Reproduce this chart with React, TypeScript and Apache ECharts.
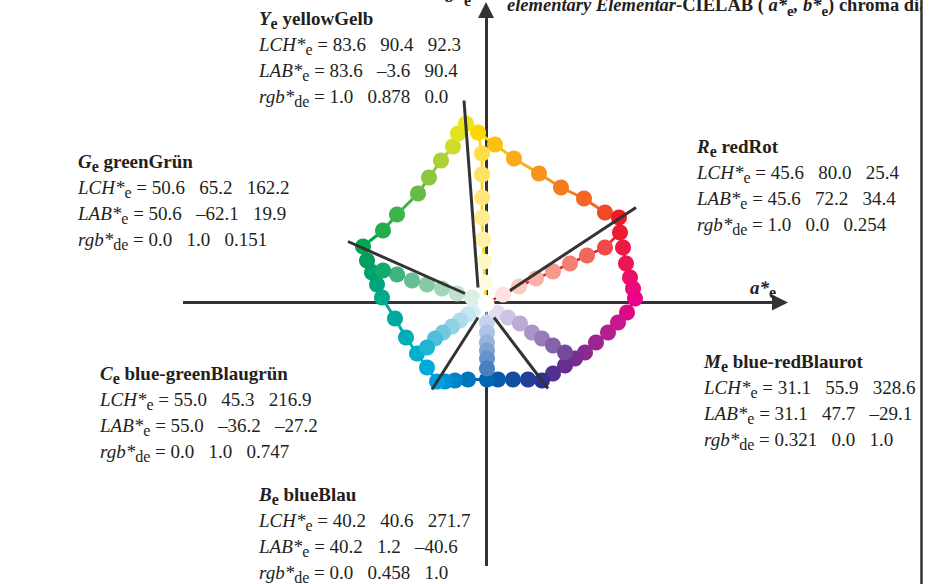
import React, { useEffect, useRef } from "react";
import * as echarts from "echarts";

const W = 935;
const H = 584;

// axis ranges in a*, b* units (2 px per unit)
const X_MIN = -243;
const X_MAX = 224.5;
const Y_MIN = -140.75;
const Y_MAX = 151.25;

// outer hexagon loop of colour samples (a*, b*), clockwise from top corner
const loopPoints: number[][] = [
  [-10, 89.5], [-4, 85], [4.5, 79], [14, 72], [26.5, 64.5], [37.5, 57.5], [49, 52], [59.5, 45], [66.5, 42.5],
  [67, 35], [68.5, 27.5], [70, 19.5], [72, 12.5], [73.5, 7], [74.5, 2],
  [70.5, -5], [66, -10], [61, -15], [55, -20], [49.5, -25], [44.5, -28], [39.5, -31.5], [33.5, -35.5], [28, -39],
  [21, -38.5], [13.5, -38.5], [6, -38.5], [0.5, -38.5], [-9, -38.5], [-15.5, -39], [-20.5, -39.5], [-24.5, -39.5],
  [-29.5, -32.5], [-34.5, -25.5], [-40, -17.5], [-45.5, -8], [-52, 2.5],
  [-54.5, 9], [-57, 15], [-59.5, 21], [-61.5, 28],
  [-51.5, 36], [-44.5, 44], [-34, 54.5], [-28.5, 62.5], [-22.5, 71], [-16.5, 78], [-14, 84.5],
];
const loopColors: string[] = [
  "#ece51a", "#ffd800", "#fdbf12", "#fbaa19", "#f7941d", "#f47b20", "#f26522", "#ef4a27", "#ed1c24",
  "#ed1b2f", "#ec1943", "#ec1656", "#ec1069", "#ec097b", "#ec008c",
  "#dd0a88", "#cb168b", "#b51f8d", "#9e258f", "#8a2a90", "#7a2c90", "#672e91", "#532f91", "#2e3192",
  "#213f99", "#134ca1", "#075aaa", "#0066b3", "#0074bd", "#0083c8", "#0092d4", "#00a0e0",
  "#00acd8", "#00afca", "#00acb6", "#00a99d", "#00a98e",
  "#00a57e", "#00a26d", "#009f5e", "#00a651",
  "#24ad4b", "#3db54a", "#66bb46", "#8dc63f", "#acd036", "#d0dc2b", "#e3e21f",
];

// centre (achromatic) point
const centerPoint: number[] = [0, -0.5];

// radial chains from centre to each elementary hue (last point lies on the loop)
const yChain: number[][] = [[-0.5, 10], [-1, 20.5], [-1.5, 31.5], [-2, 42.5], [-2, 52.5], [-2, 64], [-2, 74.5], [-4, 85]];
const yColors: string[] = ["#fffbe3", "#fff6c6", "#fff1aa", "#ffec91", "#ffe77a", "#ffe264", "#ffdd45"];
const rChain: number[][] = [[8.5, 4], [16.5, 8], [25, 12], [33.5, 15.5], [42, 19.5], [50.5, 23.5], [59.5, 27.5], [67, 35]];
const rColors: string[] = ["#fde2dd", "#fbcac1", "#f9b2a6", "#f69a8c", "#f38272", "#f0685c", "#ee4a48"];
const gChain: number[][] = [[-7, 2.5], [-14.5, 4.5], [-22, 7], [-29.5, 9], [-37, 11], [-44.5, 14], [-51.5, 16], [-59.5, 21]];
const gColors: string[] = ["#dcefe3", "#bfe2cd", "#a4d7ba", "#86cba5", "#66bf92", "#3fb37e", "#12a96d"];
const cChain: number[][] = [[-6.5, -4], [-9, -6], [-13, -9], [-17, -12], [-21.5, -15], [-25.5, -18], [-29.5, -22.5], [-34.5, -25.5]];
const cColors: string[] = ["#dbeff6", "#c4e7f1", "#abddeb", "#90d3e5", "#72c8df", "#4fbfd9", "#1fb5d3"];
const bChain: number[][] = [[0.5, -10], [0.5, -15], [0.5, -20], [0.5, -24], [0.5, -28], [0.5, -33], [0.5, -38.5]];
const bColors: string[] = ["#c6d3ec", "#afc3e4", "#98b3dc", "#80a2d3", "#6791ca", "#4a7fc0"];
const mChain: number[][] = [[5.5, -5], [11, -7.5], [17, -10.5], [23, -15], [28, -18], [33.5, -21.5], [39.5, -25], [44.5, -28]];
const mColors: string[] = ["#e4dcef", "#d0c4e3", "#bcabd4", "#a993c7", "#977bb9", "#8463ab", "#724b9e"];
const chainLineColors: string[] = ["#ffd400", "#ed1c24", "#7fc8a2", "#5fc2dc", "#7fa0d3", "#a58fc4"];

// black hue lines (outer end, inner end)
const hueLines: number[][][] = [
  [[-11, 101], [-4, 7.5]],
  [[75, 47.5], [12, 6]],
  [[-69, 30.5], [-10.5, 4.5]],
  [[-27, -43.5], [-4, -7.5]],
  [[31, -43], [4, -7.5]],
];

// coordinate axes (start, arrow end)
const axisLines: number[][][] = [
  [[-151.5, 0], [147, 0]],
  [[0, -131.75], [0, 146.25]],
];

const FONT = '"Liberation Serif", "Times New Roman", serif';
const INK = "#231f20";
const base = { fontFamily: FONT, fontSize: 19, lineHeight: 26, fill: INK, color: INK };
const sub = { ...base, fontSize: 16, lineHeight: 15, verticalAlign: "bottom" };
const rich: any = {
  n: { ...base },
  i: { ...base, fontStyle: "italic" },
  b: { ...base, fontWeight: "bold" },
  bi: { ...base, fontWeight: "bold", fontStyle: "italic" },
  s: { ...sub },
  bs: { ...sub, fontWeight: "bold" },
};
const tbase = { ...base, fontSize: 18.5 };
const tsub = { ...tbase, fontSize: 15, lineHeight: 14, verticalAlign: "bottom" };
const titleRich: any = {
  b: { ...tbase, fontWeight: "bold" },
  bi: { ...tbase, fontWeight: "bold", fontStyle: "italic" },
  bs: { ...tsub, fontWeight: "bold" },
};

const SP = "\u00a0\u00a0\u00a0";
function block(letter: string, name: string, lch: string[], lab: string[], rgb: string[]) {
  return [
    `{bi|${letter}}{bs|e}{b| ${name}}`,
    `{i|LCH*}{s|e}{n| = ${lch.join(SP)}}`,
    `{i|LAB*}{s|e}{n| = ${lab.join(SP)}}`,
    `{i|rgb*}{s|de}{n| = ${rgb.join(SP)}}`,
  ].join("\n");
}

const blocks = [
  { x: 259, y: 5, text: block("Y", "yellowGelb", ["83.6", "90.4", "92.3"], ["83.6", "–3.6", "90.4"], ["1.0", "0.878", "0.0"]) },
  { x: 78, y: 148, text: block("G", "greenGrün", ["50.6", "65.2", "162.2"], ["50.6", "–62.1", "19.9"], ["0.0", "1.0", "0.151"]) },
  { x: 697, y: 133, text: block("R", "redRot", ["45.6", "80.0", "25.4"], ["45.6", "72.2", "34.4"], ["1.0", "0.0", "0.254"]) },
  { x: 704, y: 348, text: block("M", "blue-redBlaurot", ["31.1", "55.9", "328.6"], ["31.1", "47.7", "–29.1"], ["0.321", "0.0", "1.0"]) },
  { x: 100, y: 360, text: block("C", "blue-greenBlaugrün", ["55.0", "45.3", "216.9"], ["55.0", "–36.2", "–27.2"], ["0.0", "1.0", "0.747"]) },
  { x: 259, y: 481, text: block("B", "blueBlau", ["40.2", "40.6", "271.7"], ["40.2", "1.2", "–40.6"], ["0.0", "0.458", "1.0"]) },
];

function buildOption() {
  const loopSegs = loopPoints.map((p, i) => ({
    coords: [p, loopPoints[(i + 1) % loopPoints.length]],
    lineStyle: { color: loopColors[i] },
  }));
  const chains = [yChain, rChain, gChain, cChain, bChain, mChain];
  const chainCols = [yColors, rColors, gColors, cColors, bColors, mColors];
  const chainLines = chains.map((c, i) => ({
    coords: [centerPoint, ...c],
    lineStyle: { color: chainLineColors[i] },
  }));
  const dots: any[] = [];
  loopPoints.forEach((p, i) => dots.push({ value: p, itemStyle: { color: loopColors[i], opacity: 1 } }));
  chains.forEach((c, ci) => {
    chainCols[ci].forEach((col, j) => dots.push({ value: c[j], itemStyle: { color: col, opacity: 1 } }));
  });

  const texts: any[] = blocks.map((b) => ({
    type: "text",
    x: b.x,
    y: b.y,
    z: 10,
    style: { text: b.text, rich, align: "left", verticalAlign: "top", ...base },
  }));
  texts.push({
    type: "text",
    x: 750,
    y: 274,
    z: 10,
    style: { text: "{bi|a*}{bs|e}", rich, align: "left", verticalAlign: "top", ...base },
  });
  texts.push({
    type: "text",
    x: 445,
    y: -18,
    z: 10,
    style: { text: "{bi|b*}{bs|e}", rich, align: "left", verticalAlign: "top", ...base },
  });
  texts.push({
    type: "text",
    x: 507,
    y: -8,
    z: 10,
    style: {
      text: "{bi|elementary Elementar}{b|-CIELAB ( }{bi|a*}{bs|e}{bi|, b*}{bs|e}{b|) chroma diagram}",
      rich: titleRich,
      align: "left",
      verticalAlign: "top",
      ...tbase,
    },
  });
  texts.push({ type: "rect", shape: { x: 921, y: 0, width: 14, height: H }, style: { fill: "#ffffff" }, z: 20 });
  texts.push({
    type: "line",
    shape: { x1: 921.5, y1: 0, x2: 921.5, y2: H },
    style: { stroke: "#333333", lineWidth: 2.5 },
    z: 21,
  });

  return {
    animation: false,
    grid: { left: 0, right: 0, top: 0, bottom: 0 },
    xAxis: { type: "value", min: X_MIN, max: X_MAX, show: false },
    yAxis: { type: "value", min: Y_MIN, max: Y_MAX, show: false },
    graphic: texts,
    series: [
      {
        type: "lines",
        coordinateSystem: "cartesian2d",
        z: 1,
        silent: true,
        symbol: ["none", "triangle"],
        symbolSize: [10, 16],
        lineStyle: { color: "#333333", width: 3, opacity: 1 },
        data: axisLines.map((l) => ({ coords: l })),
      },
      {
        type: "lines",
        coordinateSystem: "cartesian2d",
        z: 2,
        silent: true,
        lineStyle: { width: 3, opacity: 1 },
        data: loopSegs,
      },
      {
        type: "lines",
        coordinateSystem: "cartesian2d",
        polyline: true,
        z: 2,
        silent: true,
        lineStyle: { width: 2.5, opacity: 1 },
        data: chainLines,
      },
      {
        type: "scatter",
        z: 3,
        silent: true,
        symbolSize: 16,
        itemStyle: { opacity: 1 },
        data: dots,
      },
      {
        type: "lines",
        coordinateSystem: "cartesian2d",
        z: 4,
        silent: true,
        lineStyle: { color: "#333333", width: 3, opacity: 1 },
        data: hueLines.map((l) => ({ coords: l })),
      },
      {
        type: "scatter",
        z: 5,
        silent: true,
        symbolSize: 17,
        itemStyle: { color: "#ffffff", opacity: 1 },
        data: [centerPoint],
      },
    ],
  };
}

export default function App() {
  const ref = useRef<HTMLDivElement>(null);
  useEffect(() => {
    document.body.style.margin = "0";
    const chart = echarts.init(ref.current!, undefined, { renderer: "svg" });
    chart.setOption(buildOption() as any);
    return () => chart.dispose();
  }, []);
  return <div ref={ref} style={{ width: W, height: H }} />;
}
